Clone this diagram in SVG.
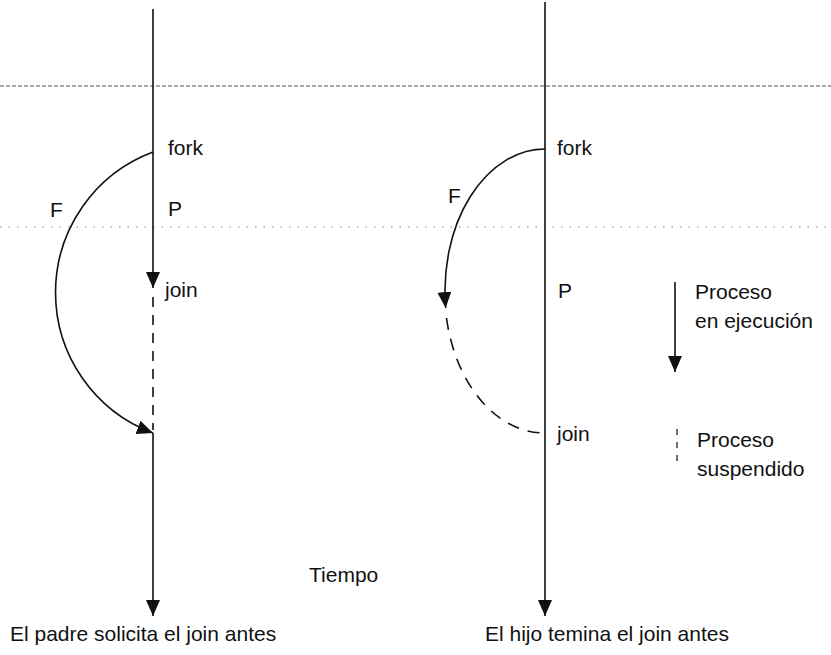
<svg xmlns="http://www.w3.org/2000/svg" width="831" height="655" viewBox="0 0 831 655">
<style>
text{font-family:"Liberation Sans",Arial,sans-serif;font-size:21px;fill:#111}
.ln{stroke:#111;stroke-width:1.6;fill:none}
.dash{stroke:#111;stroke-width:1.6;fill:none;stroke-dasharray:10 8}
.guide1{stroke:#555;stroke-width:1;stroke-dasharray:4 2}
.guide2{stroke:#888;stroke-width:1.2;stroke-dasharray:1.5 7}
</style>
<defs>
<marker id="ah" markerWidth="16" markerHeight="16" viewBox="0 0 16 16" refX="16" refY="8" orient="auto" markerUnits="userSpaceOnUse">
<path d="M0,1 L16,8 L0,15 Z" fill="#111"/>
</marker>
</defs>
<rect width="831" height="655" fill="#fff"/>
<g id="guides">
<line class="guide1" x1="0" y1="86" x2="831" y2="86"/>
<line class="guide2" x1="0" y1="227" x2="831" y2="227"/>
</g>
<g id="connectors">
<line class="ln" x1="153" y1="9" x2="153" y2="288" marker-end="url(#ah)"/>
<line class="dash" x1="153" y1="297" x2="153" y2="430"/>
<line class="ln" x1="153" y1="433" x2="153" y2="616" marker-end="url(#ah)"/>
<path class="ln" d="M153,152 A150,150 0 0 0 153,433" marker-end="url(#ah)"/>
<line class="ln" x1="545" y1="2" x2="545" y2="616" marker-end="url(#ah)"/>
<path class="ln" d="M545,149 A100,142 0 0 0 445.7,308" marker-end="url(#ah)"/>
<path class="dash" d="M446.5,318 A100,142 0 0 0 545,433" style="stroke-dasharray:12 9"/>
<line class="ln" x1="675" y1="282" x2="675" y2="372" marker-end="url(#ah)"/>
<line class="ln" x1="677" y1="429" x2="677" y2="468" style="stroke-dasharray:6 7;stroke-width:1.2"/>
</g>
<g id="left">
<text x="168" y="155">fork</text>
<text x="50" y="217">F</text>
<text x="168" y="216">P</text>
<text x="165" y="297">join</text>
</g>
<g id="right">
<text x="557" y="155">fork</text>
<text x="448" y="203">F</text>
<text x="558" y="298">P</text>
<text x="557" y="441">join</text>
</g>
<g id="legend">
<text x="695" y="299">Proceso</text>
<text x="695" y="328">en ejecución</text>
<text x="697" y="447">Proceso</text>
<text x="697" y="476">suspendido</text>
</g>
<g id="labels">
<text x="309" y="582">Tiempo</text>
<text x="10" y="641">El padre solicita el join antes</text>
<text x="485" y="641">El hijo temina el join antes</text>
</g>
</svg>
